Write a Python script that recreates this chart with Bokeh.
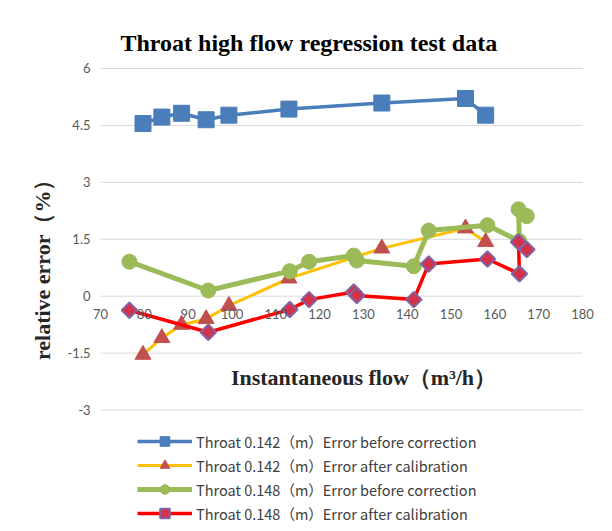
import math
from bokeh.plotting import figure
from bokeh.models import FixedTicker, Legend, LegendItem, Label, Range1d, Title
from bokeh.embed import file_html
from bokeh.resources import INLINE

# ---- data ----
x_142 = [79.7, 84.0, 88.5, 94.1, 99.3, 113.0, 134.2, 153.3, 157.9]
err_142_before = [4.55, 4.72, 4.82, 4.65, 4.77, 4.93, 5.09, 5.21, 4.77]
err_142_after = [-1.54, -1.10, -0.75, -0.60, -0.25, 0.47, 1.26, 1.79, 1.43]

x_148 = [76.6, 94.6, 113.2, 117.6, 127.8, 128.5, 141.5, 144.9, 158.3, 165.6, 165.4, 167.3]
err_148_before = [0.91, 0.15, 0.66, 0.91, 1.07, 0.94, 0.79, 1.73, 1.87, 1.45, 2.29, 2.11]
err_148_after = [-0.37, -0.95, -0.35, -0.09, 0.11, 0.02, -0.09, 0.85, 0.98, 0.59, 1.43, 1.23]

x_ticks = [70, 80, 90, 100, 110, 120, 130, 140, 150, 160, 170, 180]
x_tick_labels = ["70", "80", "90", "100", "110", "120", "130", "140", "150", "160", "170", "180"]
y_ticks = [-3, -1.5, 0, 1.5, 3, 4.5, 6]
y_tick_labels = ["-3", "-1.5", "0", "1.5", "3", "4.5", "6"]

series_names = [
    "Throat 0.142（m）Error before correction",
    "Throat 0.142（m）Error after calibration",
    "Throat 0.148（m）Error before correction",
    "Throat 0.148（m）Error after calibration",
]
title_text = "Throat high flow regression test data"
x_title = "Instantaneous flow（m³/h）"
y_title = "relative error（%）"

# ---- figure ----
# The frame is a little larger than the 70..180 / -3..6 axes so the crossing
# axes' labels (drawn inside it, as in the spreadsheet chart) are not clipped.
p = figure(width=612, height=531, output_backend="svg", toolbar_location=None,
           x_range=Range1d(60.87, 186.39), y_range=Range1d(-6.2, 6.237),
           min_border_left=60, min_border_right=2, min_border_top=59, min_border_bottom=0)
p.background_fill_color = "white"
p.border_fill_color = "white"
p.outline_line_color = None

p.title.text = title_text
p.title.align = "left"
p.title.offset = 60
p.title.standoff = 8
p.title.text_font = "Liberation Serif"
p.title.text_font_size = "24px"
p.title.text_font_style = "bold"
p.title.text_color = "black"

# x axis crossing at y = 0
xa = p.xaxis[0]
xa.fixed_location = 0
xa.ticker = FixedTicker(ticks=x_ticks)
xa.major_label_overrides = {t: l for t, l in zip(x_ticks, x_tick_labels)}
xa.axis_line_color = None
xa.major_tick_line_color = None
xa.minor_tick_line_color = None
xa.major_tick_out = 0
xa.major_tick_in = 0
xa.major_label_standoff = 13
xa.major_label_text_font = "Lato"
xa.major_label_text_font_size = "13px"
xa.major_label_text_color = "#595959"

# y axis at the left end of the value range
ya = p.yaxis[0]
ya.fixed_location = x_ticks[0]
ya.ticker = FixedTicker(ticks=y_ticks)
ya.major_label_overrides = {t: l for t, l in zip(y_ticks, y_tick_labels)}
ya.axis_line_color = None
ya.major_tick_line_color = None
ya.minor_tick_line_color = None
ya.major_tick_out = 0
ya.major_tick_in = 0
ya.major_label_standoff = 10
ya.major_label_text_font = "Lato"
ya.major_label_text_font_size = "13px"
ya.major_label_text_color = "#595959"

p.xgrid.visible = False
p.ygrid.visible = False
# horizontal gridlines spanning the axis range 70..180
p.segment(x0=[x_ticks[0]] * len(y_ticks), x1=[x_ticks[-1]] * len(y_ticks),
          y0=y_ticks, y1=y_ticks, line_color="#D9D9D9", line_width=1)

# ---- series ----
l1 = p.line(x_142, err_142_before, line_color="#4A7EBB", line_width=3.5)
m1 = p.scatter(x_142, err_142_before, marker="square", size=16,
               fill_color="#4A7EBB", line_color="#4A7EBB")

l2 = p.line(x_142, err_142_after, line_color="#FFC000", line_width=3)
m2 = p.scatter(x_142, err_142_after, marker="triangle", size=16,
               fill_color="#C0504D", line_color="#C0504D")

l3 = p.line(x_148, err_148_before, line_color="#9BBB59", line_width=5)
m3 = p.scatter(x_148, err_148_before, marker="circle", size=15,
               fill_color="#9BBB59", line_color="#9BBB59")

l4 = p.line(x_148, err_148_after, line_color="#FF0000", line_width=3.5)
m4 = p.scatter(x_148, err_148_after, marker="square", angle=math.pi / 4, size=11,
               fill_color="#D4314A", line_color="#7F65A3", line_width=2)

legend = Legend(items=[
    LegendItem(label=series_names[0], renderers=[l1, m1]),
    LegendItem(label=series_names[1], renderers=[l2, m2]),
    LegendItem(label=series_names[2], renderers=[l3, m3]),
    LegendItem(label=series_names[3], renderers=[l4, m4]),
], location=(77, 6), orientation="vertical")
legend.glyph_width = 55
legend.glyph_height = 24
legend.label_height = 24
legend.spacing = 0
legend.padding = 0
legend.margin = 0
legend.label_standoff = 4
legend.border_line_color = None
legend.background_fill_alpha = 0
legend.label_text_font = "Noto Sans CJK SC"
legend.label_text_font_size = "14.5px"
legend.label_text_color = "#404040"
p.add_layout(legend, "center")

# axis titles
p.add_layout(Label(x=303, y=154, x_units="screen", y_units="screen", text=x_title,
                   text_align="center", text_baseline="middle",
                   text_font="Liberation Serif", text_font_size="22px",
                   text_font_style="bold", text_color="#262626"))
p.add_layout(Title(text=y_title, align="right", offset=109, vertical_align="middle",
                   text_font="Liberation Serif", text_font_size="22px",
                   text_font_style="bold", text_color="#262626"), "left")

open("out.html", "w").write(file_html(p, INLINE))
